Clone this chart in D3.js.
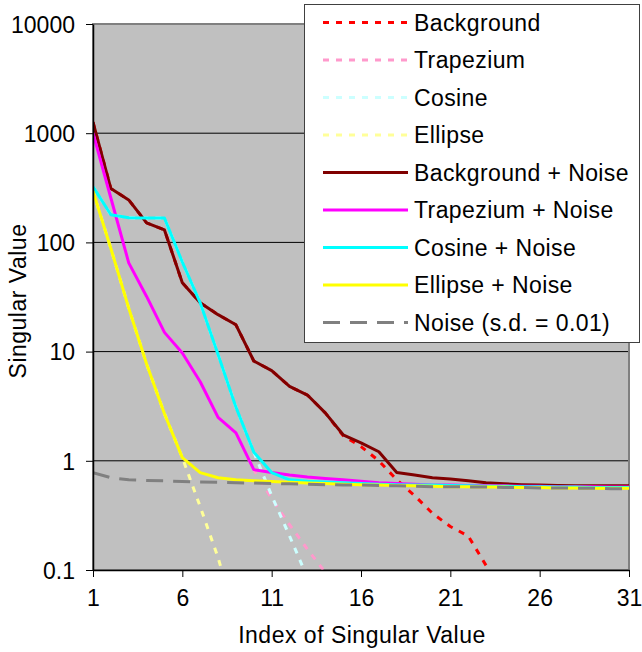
<!DOCTYPE html>
<html>
<head>
<meta charset="utf-8">
<script src="https://cdn.jsdelivr.net/npm/d3@7"></script>
<style>
    body { margin: 0; background: #fff; }
    text { font-family: 'Liberation Sans', Arial, sans-serif; fill: #000; }
</style>
</head>
<body>
<div id="chart"></div>
<script>
// index of singular value
const index = d3.range(1, 32)
const xTicks = [1, 6, 11, 16, 21, 26, 31]
const yTicks = [0.1, 1, 10, 100, 1000, 10000]

// pure signals (dotted), values below 0.1 are clipped by the plot area
const background = [1260, 311, 245, 151, 130, 42.7, 28, 21.8, 17.6, 8.2, 6.7, 4.8, 4.0, 2.75, 1.7, 1.35, 1.0, 0.67, 0.48, 0.33, 0.25, 0.205, 0.11, 0.01]
const trapezium = [1000, 255, 65, 32, 15, 9.7, 5.3, 2.5, 1.8, 0.83, 0.45, 0.26, 0.155, 0.095]
const cosine = [324, 179, 168, 167, 167, 66, 28, 9.4, 3.1, 1.2, 0.48, 0.205, 0.085]
const ellipse = [295, 88, 25, 7.7, 2.7, 1.07, 0.38, 0.13, 0.035]

// signals + noise (solid)
const backgroundNoise = [1260, 311, 245, 151, 130, 42.7, 28, 21.8, 17.6, 8.2, 6.7, 4.8, 4.0, 2.75, 1.73, 1.46, 1.21, 0.78, 0.74, 0.70, 0.68, 0.655, 0.63, 0.615, 0.605, 0.60, 0.595, 0.59, 0.59, 0.59, 0.59]
const trapeziumNoise = [1000, 255, 65, 32, 15, 9.7, 5.3, 2.5, 1.8, 0.83, 0.78, 0.74, 0.71, 0.69, 0.67, 0.65, 0.63, 0.62, 0.61, 0.60, 0.60, 0.595, 0.59, 0.59, 0.585, 0.585, 0.58, 0.58, 0.58, 0.575, 0.575]
const cosineNoise = [324, 179, 168, 167, 167, 66, 28, 9.4, 3.1, 1.2, 0.78, 0.67, 0.65, 0.64, 0.63, 0.62, 0.61, 0.605, 0.60, 0.60, 0.595, 0.59, 0.585, 0.585, 0.58, 0.58, 0.575, 0.575, 0.57, 0.57, 0.57]
const ellipseNoise = [295, 88, 25, 7.7, 2.7, 1.07, 0.78, 0.70, 0.67, 0.655, 0.645, 0.635, 0.625, 0.62, 0.61, 0.605, 0.60, 0.595, 0.59, 0.585, 0.58, 0.58, 0.575, 0.575, 0.57, 0.57, 0.565, 0.565, 0.56, 0.56, 0.56]

// noise only
const noise = [0.78, 0.70, 0.67, 0.66, 0.655, 0.645, 0.64, 0.635, 0.63, 0.625, 0.62, 0.615, 0.61, 0.605, 0.60, 0.60, 0.595, 0.59, 0.585, 0.58, 0.58, 0.575, 0.575, 0.57, 0.57, 0.565, 0.565, 0.56, 0.56, 0.555, 0.555]

const series = [
    { name: 'Background', values: background, color: '#FF0000', dash: '6,7' },
    { name: 'Trapezium', values: trapezium, color: '#FF99CC', dash: '6,7' },
    { name: 'Cosine', values: cosine, color: '#CCFFFF', dash: '6,7' },
    { name: 'Ellipse', values: ellipse, color: '#FFFF99', dash: '6,7' },
    { name: 'Background + Noise', values: backgroundNoise, color: '#800000', dash: null },
    { name: 'Trapezium + Noise', values: trapeziumNoise, color: '#FF00FF', dash: null },
    { name: 'Cosine + Noise', values: cosineNoise, color: '#00FFFF', dash: null },
    { name: 'Ellipse + Noise', values: ellipseNoise, color: '#FFFF00', dash: null },
    { name: 'Noise (s.d. = 0.01)', values: noise, color: '#808080', dash: '17,10' }
]

const margin = { top: 24, right: 13, bottom: 82, left: 93 }
const width = 642 - margin.left - margin.right
const height = 652 - margin.top - margin.bottom

const svg = d3.select('#chart')
    .append('svg')
    .attr('width', 642)
    .attr('height', 652)
    .append('g')
    .attr('transform', `translate(${margin.left}, ${margin.top})`);

const xScale = d3.scaleLinear().domain([1, 31]).range([0, width]);
const yScale = d3.scaleLog().domain([0.1, 10000]).range([height, 0]);

//plot area background
svg.append('rect')
    .attr('width', width)
    .attr('height', height)
    .attr('fill', '#C0C0C0');

//gridlines
svg.append('g')
    .selectAll('line')
    .data(yTicks.slice(1, -1))
    .join('line')
    .attr('x1', 0)
    .attr('x2', width)
    .attr('y1', d => yScale(d))
    .attr('y2', d => yScale(d))
    .attr('stroke', '#000')
    .attr('stroke-width', 1);

//plot area border
svg.append('rect')
    .attr('width', width)
    .attr('height', height)
    .attr('fill', 'none')
    .attr('stroke', '#808080')
    .attr('stroke-width', 2);

//clip lines to the plot area
svg.append('clipPath')
    .attr('id', 'clip')
    .append('rect')
    .attr('width', width)
    .attr('height', height);

const line = d3.line()
    .x((d, i) => xScale(index[i]))
    .y(d => yScale(d));

//series drawn in legend order, later ones on top
svg.append('g')
    .attr('clip-path', 'url(#clip)')
    .selectAll('path')
    .data(series)
    .join('path')
    .attr('fill', 'none')
    .attr('stroke', d => d.color)
    .attr('stroke-width', 3)
    .attr('stroke-dasharray', d => d.dash)
    .attr('stroke-linejoin', 'round')
    .attr('d', d => line(d.values));

//y axis
const yaxis = d3.axisLeft(yScale)
    .tickValues(yTicks)
    .tickFormat(d => String(d))
    .tickSize(7)
    .tickSizeOuter(0)
    .tickPadding(11);
const gy = svg.append('g').call(yaxis);
gy.select('.domain').attr('stroke', '#000').attr('stroke-width', 1.5);
gy.selectAll('.tick line').attr('stroke', '#000');
gy.selectAll('.tick text').style('font-size', '23px').attr('dy', '0.36em');

//x axis
const xaxis = d3.axisBottom(xScale)
    .tickValues(xTicks)
    .tickFormat(d3.format('d'))
    .tickSize(7)
    .tickSizeOuter(0)
    .tickPadding(13);
const gx = svg.append('g')
    .attr('transform', `translate(0, ${height})`)
    .call(xaxis);
gx.select('.domain').attr('stroke', '#000').attr('stroke-width', 1.5);
gx.selectAll('.tick line').attr('stroke', '#000');
gx.selectAll('.tick text').style('font-size', '23px');

//x label
svg.append('text')
    .attr('x', width / 2 + 1)
    .attr('y', height + 73)
    .attr('text-anchor', 'middle')
    .style('font-size', '23px')
    .style('letter-spacing', '0.5px')
    .text('Index of Singular Value');

//y label
svg.append('text')
    .attr('transform', `translate(${-margin.left + 26}, ${height / 2 + 4}) rotate(-90)`)
    .attr('text-anchor', 'middle')
    .style('font-size', '23px')
    .style('letter-spacing', '0.5px')
    .text('Singular Value');

//legend
const legend = d3.select('svg').append('g');
legend.append('rect')
    .attr('x', 304.5)
    .attr('y', 4.5)
    .attr('width', 335)
    .attr('height', 338)
    .attr('fill', '#fff')
    .attr('stroke', '#404040')
    .attr('stroke-width', 1);

const rows = legend.selectAll('g.row')
    .data(series)
    .join('g')
    .attr('class', 'row')
    .attr('transform', (d, i) => `translate(0, ${22.5 + i * 37.5})`);

rows.append('line')
    .attr('x1', 323)
    .attr('x2', 408)
    .attr('stroke', d => d.color)
    .attr('stroke-width', 3)
    .attr('stroke-dasharray', d => d.dash);

rows.append('text')
    .attr('x', 414)
    .attr('y', 8)
    .style('font-size', '23px')
    .style('letter-spacing', '0.4px')
    .text(d => d.name);
</script>
</body>
</html>
